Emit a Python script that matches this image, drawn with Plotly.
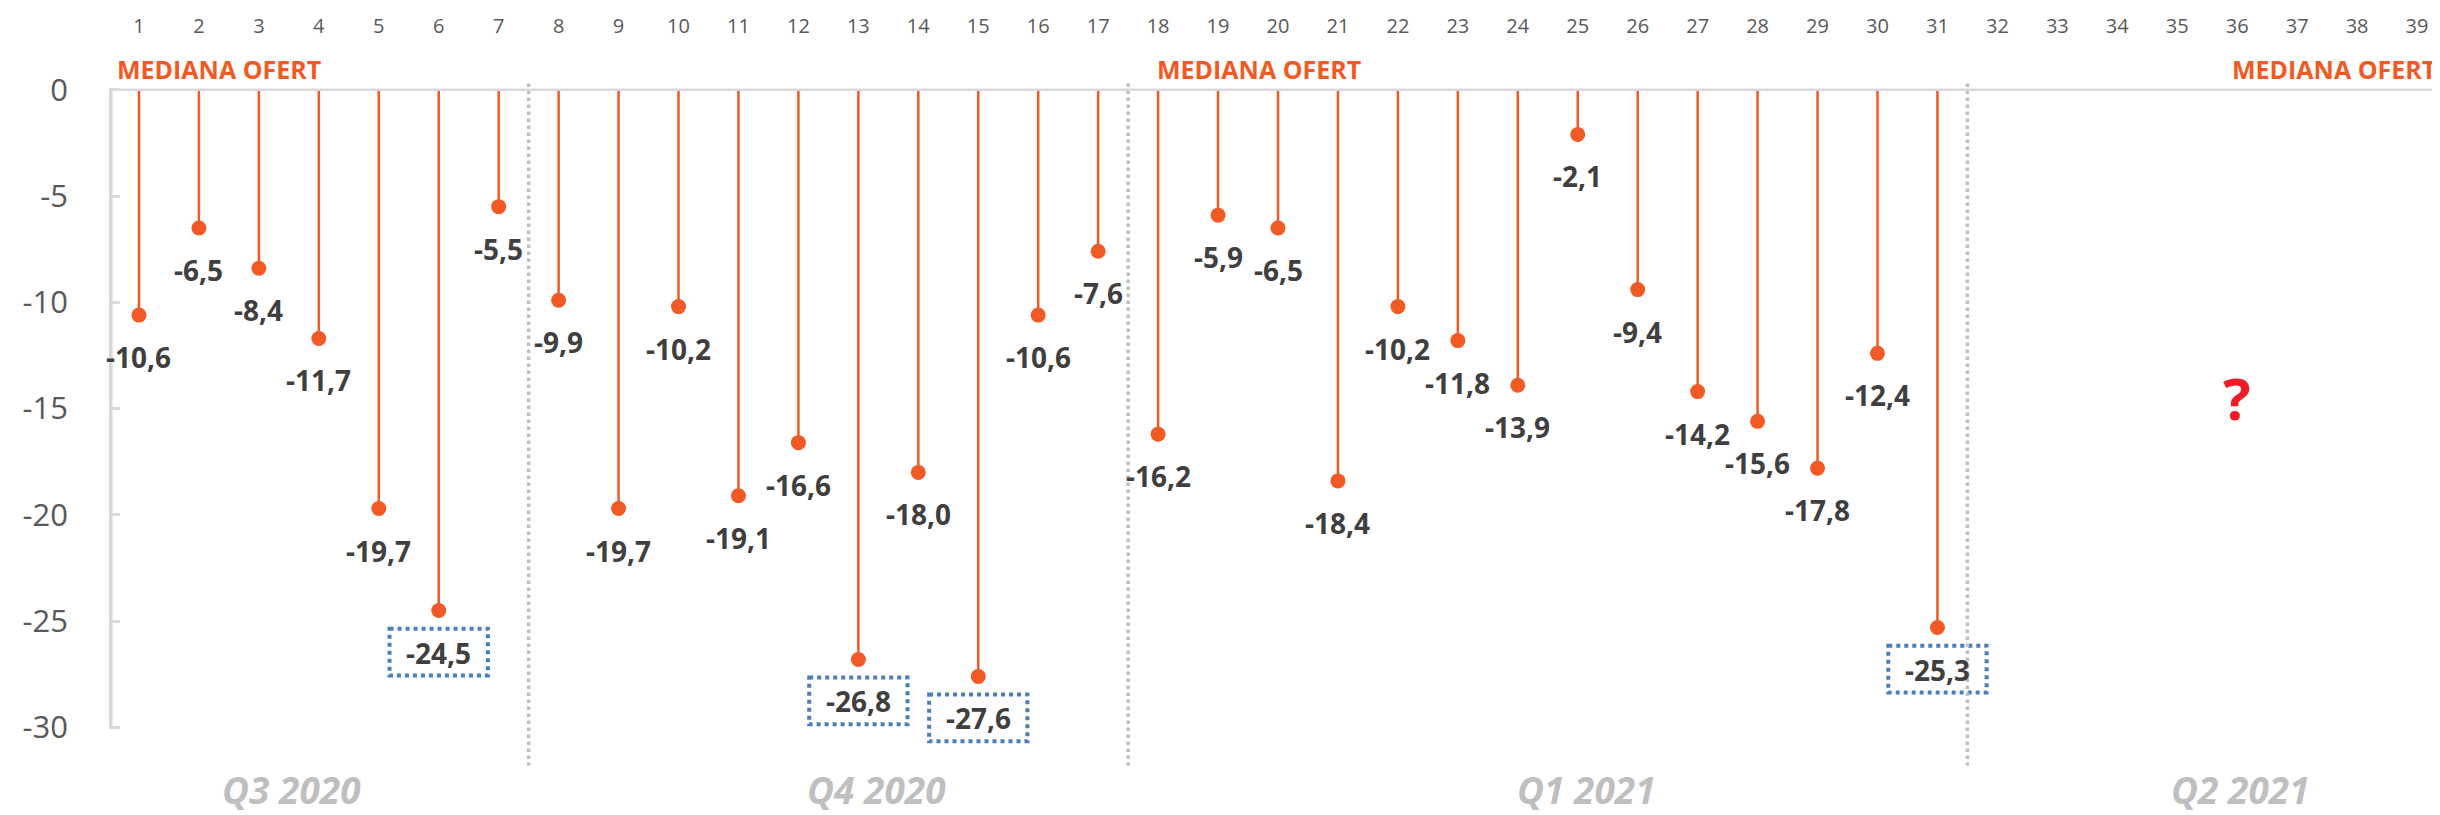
import plotly.graph_objects as go

# numery tygodni / pozycje na osi
weeks = list(range(1, 40))
# mediana ofert (zmiana), brak danych dla 32-39
values = [-10.6, -6.5, -8.4, -11.7, -19.7, -24.5, -5.5,
          -9.9, -19.7, -10.2, -19.1, -16.6, -26.8, -18.0, -27.6, -10.6, -7.6,
          -16.2, -5.9, -6.5, -18.4, -10.2, -11.8, -13.9, -2.1, -9.4, -14.2, -15.6, -17.8, -12.4, -25.3]
highlighted = [6, 13, 15, 31]
quarter_names = ["Q3 2020", "Q4 2020", "Q1 2021", "Q2 2021"]
quarter_centers = [3.55, 13.3, 25.15, 36.05]
quarter_breaks = [7.5, 17.5, 31.5]
y_ticks = [0, -5, -10, -15, -20, -25, -30]

ORANGE = "#F15A24"
LABEL = "#3F3F3F"
AXIS = "#595959"

stem_x, stem_y = [], []
for w, v in zip(weeks, values):
    stem_x += [w, w, None]
    stem_y += [0, v, None]

fig = go.Figure()
fig.add_trace(go.Scatter(x=stem_x, y=stem_y, mode="lines",
                         line=dict(color=ORANGE, width=2.5), hoverinfo="skip"))
fig.add_trace(go.Scatter(x=weeks[:len(values)], y=values, mode="markers",
                         marker=dict(color=ORANGE, size=15)))

def fmt(v):
    return f"{v:.1f}".replace(".", ",")

for w, v in zip(weeks, values):
    fig.add_annotation(x=w, y=v, text=fmt(v), showarrow=False, yshift=-42,
                       font=dict(family="Open Sans", size=28, color=LABEL, weight="bold"))

# niebieskie kropkowane ramki
for w in highlighted:
    v = values[w - 1]
    fig.add_shape(type="rect", x0=w - 0.82, x1=w + 0.82, y0=v - 0.85, y1=v - 3.05,
                  line=dict(color="#4A7EC0", width=4, dash="dot"))

# separatory kwartałów
for b in quarter_breaks:
    fig.add_shape(type="line", x0=b, x1=b, y0=0.3, y1=-31.8,
                  line=dict(color="#BFBFBF", width=3.5, dash="dot"))

# linia zero i oś Y
fig.add_shape(type="line", x0=0.5, x1=39.5, y0=0, y1=0,
              line=dict(color="#D9D9D9", width=2.5))
fig.add_shape(type="line", x0=0.53, x1=0.53, y0=0, y1=-30,
              line=dict(color="#D9D9D9", width=3.5))

mediana_font = dict(family="Open Sans", size=25, color=ORANGE, weight="bold")
for xpos, anchor in [(0.6, "left"), (17.95, "left"), (39.35, "right")]:
    fig.add_annotation(x=xpos, y=0, yshift=21, text="MEDIANA OFERT", showarrow=False,
                       xanchor=anchor, yanchor="middle", font=mediana_font)

for name, c in zip(quarter_names, quarter_centers):
    fig.add_annotation(x=c, y=-0.028, yref="paper", text=name, showarrow=False,
                       yanchor="middle",
                       font=dict(family="Open Sans", size=37, color="#BFBFBF",
                                 weight="bold", style="italic"))

fig.add_annotation(x=36, y=-14.5, text="?", showarrow=False,
                   font=dict(family="Open Sans", size=58, color="#EE1C25", weight="bold"))

fig.update_layout(
    width=2440, height=815,
    margin=dict(l=101, r=1, t=69, b=53),
    plot_bgcolor="white", paper_bgcolor="white",
    showlegend=False,
    xaxis=dict(range=[0.5, 39.5], side="top", tickmode="array", tickvals=weeks,
               ticktext=[str(w) for w in weeks], showgrid=False, zeroline=False,
               showline=False, ticks="", ticklabelstandoff=39,
               tickfont=dict(family="Open Sans", size=20, color=AXIS)),
    yaxis=dict(range=[-32, 0.6], tickmode="array", tickvals=y_ticks,
               ticktext=[str(t) for t in y_ticks], showgrid=False, zeroline=False,
               showline=False, ticks="inside", ticklen=11, tickwidth=3, tickcolor="#D9D9D9",
               ticklabelstandoff=40,
               tickfont=dict(family="Open Sans", size=31, color=AXIS)),
)

fig.write_html("out.html")
